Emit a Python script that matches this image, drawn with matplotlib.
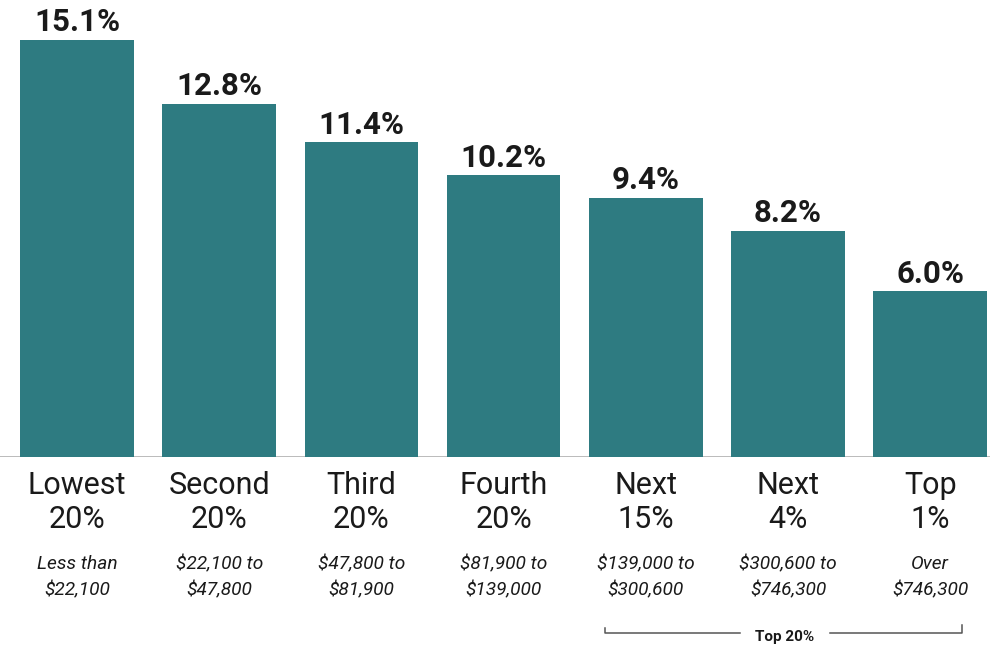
import matplotlib.pyplot as plt
from matplotlib.transforms import blended_transform_factory

# Data
groups = ["Lowest\n20%", "Second\n20%", "Third\n20%", "Fourth\n20%",
          "Next\n15%", "Next\n4%", "Top\n1%"]
ranges = ["Less than\n$22,100", "$22,100 to\n$47,800", "$47,800 to\n$81,900",
          "$81,900 to\n$139,000", "$139,000 to\n$300,600", "$300,600 to\n$746,300",
          "Over\n$746,300"]
shares = [15.1, 12.8, 11.4, 10.2, 9.4, 8.2, 6.0]
bracket_label = "Top 20%"

BAR_COLOR = "#2e7b81"
TEXT_COLOR = "#1a1a1a"
W, H = 990, 648

plt.rcParams["font.family"] = ["Roboto", "DejaVu Sans"]

fig = plt.figure(figsize=(9.9, 6.48), dpi=100)
ax = fig.add_axes([0, (H - 457) / H, 1, 441.6 / H])

x = list(range(len(shares)))
ax.bar(x, shares, width=0.80, color=BAR_COLOR, zorder=2)
ax.set_xlim(-77 / 142.2, (W - 77) / 142.2)
ax.set_ylim(0, 16)
ax.axhline(0, color="#b5b5b5", lw=1.3, zorder=1)

for xi, v in zip(x, shares):
    ax.annotate(f"{v:.1f}%", (xi, v), xytext=(0, 2), textcoords="offset points",
                ha="center", va="bottom", fontsize=22.5, fontweight="bold",
                color=TEXT_COLOR)

tr = blended_transform_factory(ax.transData, fig.transFigure)
for xi, g, r in zip(x, groups, ranges):
    ax.text(xi, 1 - 471 / H, g, transform=tr, ha="center", va="top",
            fontsize=22, color=TEXT_COLOR, linespacing=1.22)
    ax.text(xi, 1 - 555 / H, r, transform=tr, ha="center", va="top",
            fontsize=13.8, style="italic", color=TEXT_COLOR, linespacing=1.55)

# Top 20% bracket
figx = lambda px: px / W
figy = lambda py: 1 - py / H
lc = "#555555"
fig.add_artist(plt.Line2D([figx(605), figx(605), figx(740)],
                          [figy(628), figy(633), figy(633)], color=lc, lw=1.1))
fig.add_artist(plt.Line2D([figx(830), figx(962), figx(962)],
                          [figy(633), figy(633), figy(625)], color=lc, lw=1.1))
fig.text(figx(785), figy(637), bracket_label, ha="center", va="center",
         fontsize=11, fontweight="bold", color=TEXT_COLOR)

ax.axis("off")
fig.savefig("out.png", dpi=100)
